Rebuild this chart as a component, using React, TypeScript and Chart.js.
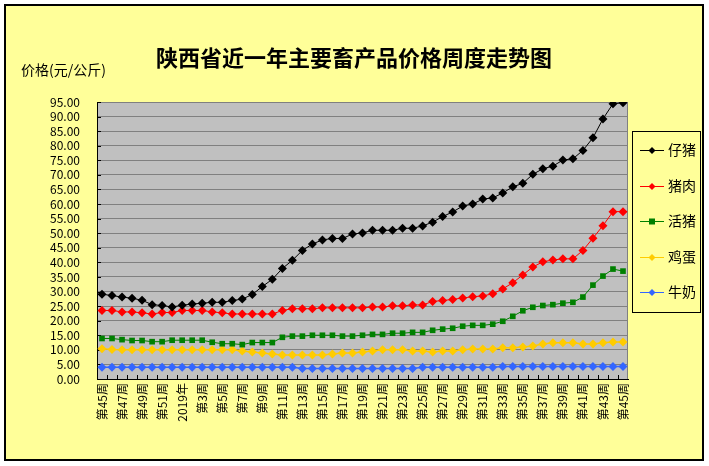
import React, { useEffect, useRef } from 'react';
import { Chart, registerables } from 'chart.js';

Chart.register(...registerables);

const chartTitle = '陕西省近一年主要畜产品价格周度走势图';
const yAxisTitle = '价格(元/公斤)';

const weeks = [
  '第45周', '第46周', '第47周', '第48周', '第49周', '第50周', '第51周', '第52周',
  '2019年', '第2周', '第3周', '第4周', '第5周', '第6周', '第7周', '第8周', '第9周', '第10周',
  '第11周', '第12周', '第13周', '第14周', '第15周', '第16周', '第17周', '第18周', '第19周', '第20周',
  '第21周', '第22周', '第23周', '第24周', '第25周', '第26周', '第27周', '第28周', '第29周', '第30周',
  '第31周', '第32周', '第33周', '第34周', '第35周', '第36周', '第37周', '第38周', '第39周', '第40周',
  '第41周', '第42周', '第43周', '第44周', '第45周',
];

const piglet = [
  29.1, 28.6, 28.1, 27.7, 27.0, 25.5, 25.2, 24.7, 25.3, 25.7,
  26.0, 26.3, 26.3, 26.9, 27.4, 29.0, 31.7, 34.2, 37.9, 40.7,
  44.1, 46.3, 47.7, 48.2, 48.2, 49.7, 50.1, 51.0, 51.0, 51.0,
  51.7, 51.7, 52.5, 53.8, 55.7, 57.3, 59.3, 60.0, 61.7, 62.1,
  63.8, 65.9, 67.1, 70.2, 72.1, 73.0, 75.1, 75.5, 78.4, 82.7,
  89.2, 94.4, 94.7,
];

const pork = [
  23.5, 23.5, 23.0, 23.0, 22.7, 22.3, 22.8, 22.8, 23.5, 23.5,
  23.5, 23.0, 22.7, 22.3, 22.3, 22.3, 22.3, 22.3, 23.5, 24.1,
  24.1, 24.1, 24.4, 24.4, 24.4, 24.4, 24.4, 24.7, 24.7, 25.1,
  25.1, 25.4, 25.4, 26.6, 26.9, 27.3, 27.8, 28.2, 28.5, 29.2,
  30.9, 33.0, 35.7, 38.4, 40.2, 40.8, 41.2, 41.2, 44.1, 48.3,
  52.6, 57.4, 57.4,
];

const livePig = [
  13.9, 13.9, 13.5, 13.2, 13.2, 12.8, 12.8, 13.3, 13.3, 13.3,
  13.3, 12.6, 12.1, 12.1, 11.8, 12.5, 12.5, 12.5, 14.3, 14.7,
  14.7, 15.0, 15.0, 15.0, 14.7, 14.7, 15.0, 15.3, 15.3, 15.7,
  15.7, 16.0, 16.0, 16.7, 17.1, 17.4, 18.1, 18.4, 18.4, 18.8,
  19.8, 21.5, 23.4, 24.6, 25.2, 25.5, 26.0, 26.3, 28.1, 32.2,
  35.3, 37.7, 37.0,
];

const eggs = [
  10.4, 10.1, 10.0, 10.0, 10.0, 10.0, 10.0, 10.0, 10.0, 10.0,
  10.0, 10.0, 10.0, 10.0, 9.6, 9.3, 8.9, 8.6, 8.2, 8.2,
  8.2, 8.2, 8.2, 8.6, 8.9, 8.9, 9.3, 9.6, 10.0, 10.0,
  10.0, 9.6, 9.6, 9.3, 9.6, 9.6, 10.0, 10.3, 10.3, 10.3,
  10.7, 10.7, 11.0, 11.3, 12.0, 12.4, 12.4, 12.4, 12.0, 12.0,
  12.4, 12.7, 12.7,
];

const milk = [
  4.0, 4.0, 4.0, 4.0, 4.0, 4.0, 4.0, 4.0, 4.0, 4.0,
  4.0, 4.0, 4.0, 4.0, 4.0, 4.0, 4.0, 4.0, 4.0, 4.0,
  3.6, 3.6, 3.6, 3.6, 3.6, 3.6, 3.6, 3.6, 3.6, 3.6,
  3.6, 3.6, 4.0, 4.0, 4.0, 4.0, 4.0, 4.0, 4.0, 4.0,
  4.3, 4.3, 4.3, 4.3, 4.3, 4.3, 4.3, 4.3, 4.3, 4.3,
  4.3, 4.3, 4.3,
];

const seriesNames = ['仔猪', '猪肉', '活猪', '鸡蛋', '牛奶'];
const seriesColors = ['#000000', '#FF0000', '#008000', '#FFCC00', '#3366FF'];
const seriesStyles = ['rectRot', 'rectRot', 'rect', 'rectRot', 'rectRot'];
const seriesValues = [piglet, pork, livePig, eggs, milk];

const yMin = 0;
const yMax = 95;
const yStep = 5;

const FONT = '"Noto Sans CJK SC", "Noto Sans", sans-serif';

const decorPlugin = {
  id: 'decor',
  beforeDraw(chart: any) {
    const { ctx, width, height, chartArea } = chart;
    ctx.save();
    ctx.fillStyle = '#FFFFFF';
    ctx.fillRect(0, 0, width, height);
    ctx.fillStyle = '#FFFF99';
    ctx.fillRect(5, 5, 698, 455);
    ctx.strokeStyle = '#000000';
    ctx.lineWidth = 2;
    ctx.strokeRect(5, 5, 698, 455);
    ctx.fillStyle = '#C0C0C0';
    ctx.fillRect(chartArea.left, chartArea.top, chartArea.right - chartArea.left, chartArea.bottom - chartArea.top);
    ctx.restore();
  },
  beforeDatasetsDraw(chart: any) {
    const { ctx, chartArea } = chart;
    const ys = chart.scales.y;
    ctx.save();
    ctx.strokeStyle = '#808080';
    ctx.lineWidth = 1;
    ctx.beginPath();
    ctx.moveTo(chartArea.left, chartArea.top + 0.5);
    ctx.lineTo(chartArea.right - 0.5, chartArea.top + 0.5);
    ctx.lineTo(chartArea.right - 0.5, chartArea.bottom);
    ctx.stroke();
    ctx.strokeStyle = '#000000';
    ctx.beginPath();
    for (let v = yMin; v <= yMax; v += yStep) {
      const y = Math.round(ys.getPixelForValue(v)) + 0.5;
      ctx.moveTo(chartArea.left, y);
      ctx.lineTo(chartArea.left + 4, y);
    }
    const n = weeks.length;
    const slot = (chartArea.right - chartArea.left) / n;
    for (let i = 1; i < n; i++) {
      const x = Math.round(chartArea.left + slot * i) + 0.5;
      ctx.moveTo(x, chartArea.bottom);
      ctx.lineTo(x, chartArea.bottom - 4);
    }
    ctx.stroke();
    ctx.restore();
  },
  afterDraw(chart: any) {
    const { ctx } = chart;
    ctx.save();
    ctx.fillStyle = '#000000';
    ctx.font = `bold 22px ${FONT}`;
    ctx.textAlign = 'center';
    ctx.textBaseline = 'middle';
    ctx.fillText(chartTitle, 354, 58);
    ctx.font = `14px ${FONT}`;
    ctx.textAlign = 'left';
    ctx.fillText(yAxisTitle, 21, 70);
    const lx = 632, ly = 131, lw = 68, lh = 181;
    ctx.strokeStyle = '#000000';
    ctx.lineWidth = 1;
    ctx.strokeRect(lx + 0.5, ly + 0.5, lw, lh);
    const rows = [150, 186, 221, 257, 292];
    chart.data.datasets.forEach((ds: any, i: number) => {
      const y = rows[i];
      ctx.strokeStyle = ds.borderColor;
      ctx.lineWidth = 1;
      ctx.beginPath();
      ctx.moveTo(640, y + 0.5);
      ctx.lineTo(664, y + 0.5);
      ctx.stroke();
      ctx.fillStyle = ds.borderColor;
      const cx = 652, cy = y + 0.5;
      if (ds.pointStyle === 'rect') {
        ctx.fillRect(cx - 3, cy - 3, 6, 6);
      } else {
        ctx.beginPath();
        ctx.moveTo(cx, cy - 3.5);
        ctx.lineTo(cx + 3.5, cy);
        ctx.lineTo(cx, cy + 3.5);
        ctx.lineTo(cx - 3.5, cy);
        ctx.closePath();
        ctx.fill();
      }
      ctx.fillStyle = '#000000';
      ctx.font = `14px ${FONT}`;
      ctx.textAlign = 'left';
      ctx.textBaseline = 'middle';
      ctx.fillText(ds.label, 668, y);
    });
    ctx.restore();
  },
};

export default function App() {
  const canvasRef = useRef<HTMLCanvasElement | null>(null);

  useEffect(() => {
    document.body.style.margin = '0';
    const canvas = canvasRef.current;
    if (!canvas) return;
    const chart = new Chart(canvas, {
      type: 'line',
      data: {
        labels: weeks,
        datasets: seriesNames.map((name, i) => ({
          label: name,
          data: seriesValues[i],
          borderColor: seriesColors[i],
          backgroundColor: seriesColors[i],
          borderWidth: i >= 3 ? 1.5 : 1,
          pointStyle: seriesStyles[i] as any,
          pointRadius: seriesStyles[i] === 'rect' ? 4 : 4.5,
          pointBorderWidth: 0,
          pointBackgroundColor: seriesColors[i],
          tension: 0,
        })),
      },
      options: {
        responsive: false,
        animation: false,
        devicePixelRatio: 1,
        layout: { padding: { left: 0, top: 102, right: 81, bottom: 0 } },
        plugins: {
          legend: { display: false },
          title: { display: false },
          tooltip: { enabled: false },
        },
        scales: {
          x: {
            type: 'category',
            offset: true,
            grid: { display: true, drawOnChartArea: false, drawTicks: false },
            border: { display: true, color: '#000000', width: 1 },
            ticks: {
              autoSkip: false,
              maxRotation: 90,
              minRotation: 90,
              padding: 4,
              color: '#000000',
              font: { family: FONT, size: 12 },
              callback: (_v: any, idx: number) => (idx % 2 === 0 ? weeks[idx] : ''),
            },
            afterFit: (scale: any) => {
              scale.height = 87;
            },
          },
          y: {
            min: yMin,
            max: yMax,
            grid: { color: '#808080', lineWidth: 1, drawTicks: false },
            border: { display: true, color: '#000000', width: 1 },
            ticks: {
              stepSize: yStep,
              autoSkip: false,
              padding: 17,
              color: '#000000',
              font: { family: FONT, size: 12 },
              callback: (v: any) => Number(v).toFixed(2),
            },
            afterFit: (scale: any) => {
              scale.width = 97;
            },
          },
        },
      },
      plugins: [decorPlugin],
    });
    return () => chart.destroy();
  }, []);

  return (
    <div style={{ position: 'absolute', left: 0, top: 0, width: 709, height: 466 }}>
      <canvas ref={canvasRef} width={709} height={466} style={{ display: 'block' }} />
    </div>
  );
}
